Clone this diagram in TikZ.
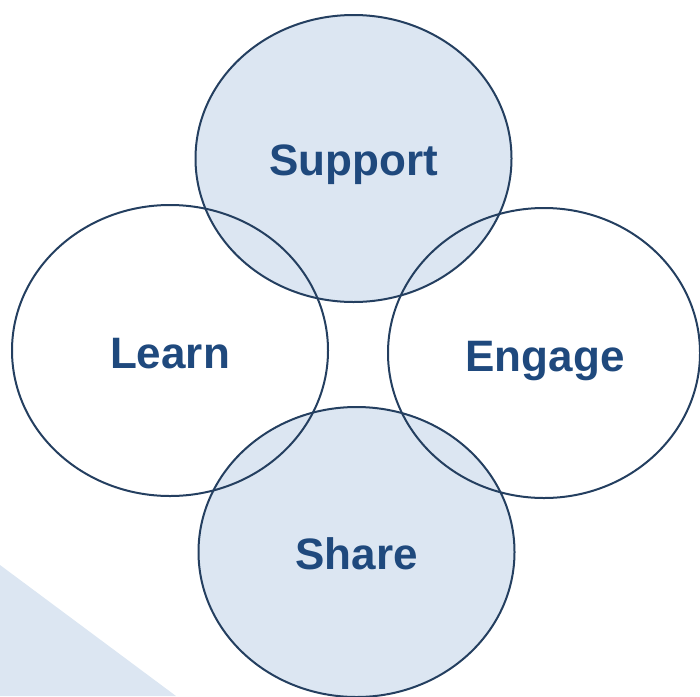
\documentclass[tikz,border=0pt]{standalone}
\usepackage{fontspec}
\setmainfont{Liberation Sans}
\usepackage{tikz}
\usetikzlibrary{calc}
\definecolor{lightsteel}{RGB}{220, 230, 242}
\definecolor{navyline}{RGB}{36, 63, 96}
\definecolor{denimblue}{RGB}{31, 73, 125}

\begin{document}
\begin{tikzpicture}[x=1pt, y=-1pt]
		\def\rx{158}
		\def\ry{144}
		\useasboundingbox (0,0) rectangle (700,696);
		\coordinate (S) at (353.5,158.5);
		\coordinate (L) at (170,350.5);
		\coordinate (E) at (544,353);
		\coordinate (H) at (356.5,552);
		
		% background corner
		\fill[lightsteel] (0,565) -- (176,696) -- (0,696) -- cycle;
		
		% filled circles
		\fill[lightsteel] (S) ellipse (\rx pt and 143.5pt);
		\fill[lightsteel] (H) ellipse (\rx pt and 145pt);
		
		% outlines
		\draw[line width=2pt, navyline] (S) ellipse (\rx pt and 143.5pt);
		\draw[line width=2pt, navyline] (L) ellipse (\rx pt and 145.5pt);
		\draw[line width=2pt, navyline] (E) ellipse (156pt and 145pt);
		\draw[line width=2pt, navyline] (H) ellipse (\rx pt and 145pt);
		
		\node[anchor=base, denimblue, font=\fontsize{44}{52}\selectfont\bfseries] (support) at ($(S)+(0,16.5)$) {Support};
		\node[anchor=base, denimblue, font=\fontsize{44}{52}\selectfont\bfseries] (learn) at ($(L)+(0,18)$) {Learn};
		\node[anchor=base, denimblue, font=\fontsize{44}{52}\selectfont\bfseries] (engage) at ($(E)+(1,18)$) {Engage};
		\node[anchor=base, denimblue, font=\fontsize{44}{52}\selectfont\bfseries] (share) at ($(H)+(0,17)$) {Share};
		
\end{tikzpicture}
\end{document}
